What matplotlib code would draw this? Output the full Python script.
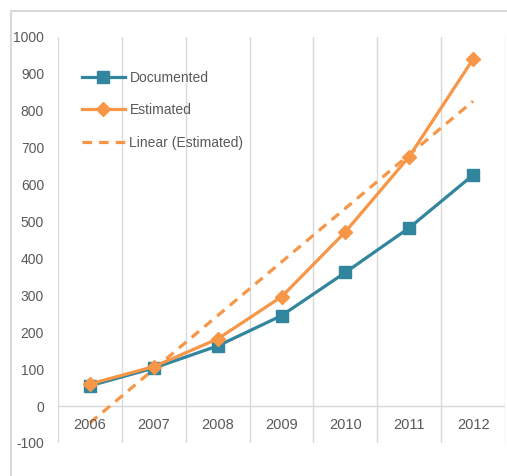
import numpy as np
import matplotlib
matplotlib.use("Agg")
import matplotlib.pyplot as plt
from matplotlib.lines import Line2D

years = ["2006", "2007", "2008", "2009", "2010", "2011", "2012"]
documented = [55, 103, 163, 245, 362, 483, 626]
estimated = [60, 107, 182, 296, 472, 676, 940]
yticks = [-100, 0, 100, 200, 300, 400, 500, 600, 700, 800, 900, 1000]

teal = "#31859C"
orange = "#F79646"
grid = "#D9D9D9"
txt = "#595959"

plt.rcParams['font.family'] = ['Liberation Sans', 'DejaVu Sans']

W, H = 507, 476
fig = plt.figure(figsize=(W / 100, H / 100), dpi=100)
ax = fig.add_axes([58 / W, (H - 443) / H, (505 - 58) / W, (443 - 37) / H])

x = np.arange(1, len(years) + 1)
coef = np.polyfit(x, estimated, 1)
trend = np.polyval(coef, x)

ax.plot(x, documented, color=teal, lw=2.3, marker="s", ms=9, label="Documented", zorder=4)
ax.plot(x, estimated, color=orange, lw=2.3, marker="D", ms=7, label="Estimated", zorder=5)
ax.plot([x[0], x[-1]], [trend[0], trend[-1]], color=orange, lw=2.3, ls=(0, (3, 2.2)),
        label="Linear (Estimated)", zorder=3)

ax.set_xlim(0.5, len(years) + 0.5)
ax.set_ylim(-100, 1000)
for b in np.arange(0.5, len(years) + 1, 1):
    ax.axvline(b, color=grid, lw=1, zorder=0)
ax.axhline(0, color=grid, lw=1, zorder=1)

for s in ax.spines.values():
    s.set_visible(False)
ax.set_yticks(yticks)
ax.set_yticklabels([str(v) for v in yticks], color=txt, fontsize=10)
ax.tick_params(axis="y", length=0, pad=10)
ax.set_xticks([])
for xi, yr in zip(x, years):
    ax.text(xi, -50, yr, ha="center", va="center", color=txt, fontsize=10.5)

leg = ax.legend(loc="upper left", bbox_to_anchor=(18 / 447, (443 - 65) / 406),
                frameon=False, fontsize=10, handlelength=3.1, handletextpad=0.35,
                labelspacing=1.35, borderaxespad=0)
for t in leg.get_texts():
    t.set_color(txt)

# outer border
fig.add_artist(Line2D([11 / W, 11 / W, 1], [0, (H - 11) / H, (H - 11) / H],
                      color=grid, lw=1.5, transform=fig.transFigure))

fig.savefig("out.png", dpi=100)
